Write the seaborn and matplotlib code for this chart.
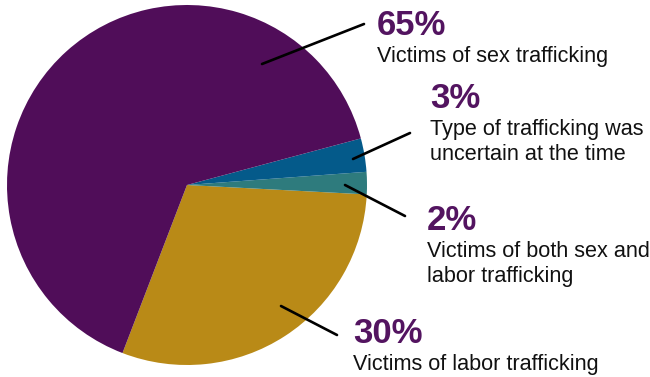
import matplotlib
matplotlib.use("Agg")
import matplotlib.pyplot as plt
import seaborn as sns

# ---- data ----
categories = ["Victims of labor trafficking",
              "Victims of both sex and\nlabor trafficking",
              "Type of trafficking was\nuncertain at the time",
              "Victims of sex trafficking"]
values = [30, 2, 3, 65]
pct_labels = ["30%", "2%", "3%", "65%"]
colors = ["#B98A17", "#2E7B7D", "#045A8A", "#500D59"]

# ---- layout (image pixel coords, y measured from top) ----
W, H = 650, 377
center = (187, 185)
radius = 180
label_pos = [(353, 343), (427, 230), (430, 108), (377, 35)]   # left, baseline of percent
leaders = [((281, 306), (337, 335)),
           ((345, 185), (405, 216)),
           ((353, 159), (410, 133)),
           ((262, 64), (364, 24))]

sns.set_theme(style="white")
plt.rcParams['font.family'] = ['Liberation Sans', 'DejaVu Sans']

fig = plt.figure(figsize=(W / 100, H / 100), dpi=100)
ax = fig.add_axes([0, 0, 1, 1])

def Y(y):
    return H - y

ax.pie(values, colors=colors, startangle=-111, counterclock=True,
       center=(center[0], Y(center[1])), radius=radius,
       wedgeprops=dict(linewidth=0, edgecolor='none'), frame=True)
ax.set_xlim(0, W)
ax.set_ylim(0, H)
ax.set_aspect('equal')
ax.axis('off')

pct_color = "#531460"
for cat, pct, (lx, ly), ((x0, y0), (x1, y1)) in zip(categories, pct_labels, label_pos, leaders):
    ax.annotate("", xy=(x0, Y(y0)), xytext=(x1, Y(y1)),
                arrowprops=dict(arrowstyle='-', color='black', lw=1.9,
                                shrinkA=0, shrinkB=0))
    ax.text(lx, Y(ly), pct, fontsize=25, fontweight='bold', color=pct_color,
            family=['Liberation Sans Narrow', 'Liberation Sans', 'DejaVu Sans'],
            ha='left', va='baseline')
    for i, line in enumerate(cat.split("\n")):
        ax.text(lx, Y(ly + 27 + 25 * i), line, fontsize=15.6, color='#111111',
                ha='left', va='baseline')

fig.savefig("out.png", dpi=100)
